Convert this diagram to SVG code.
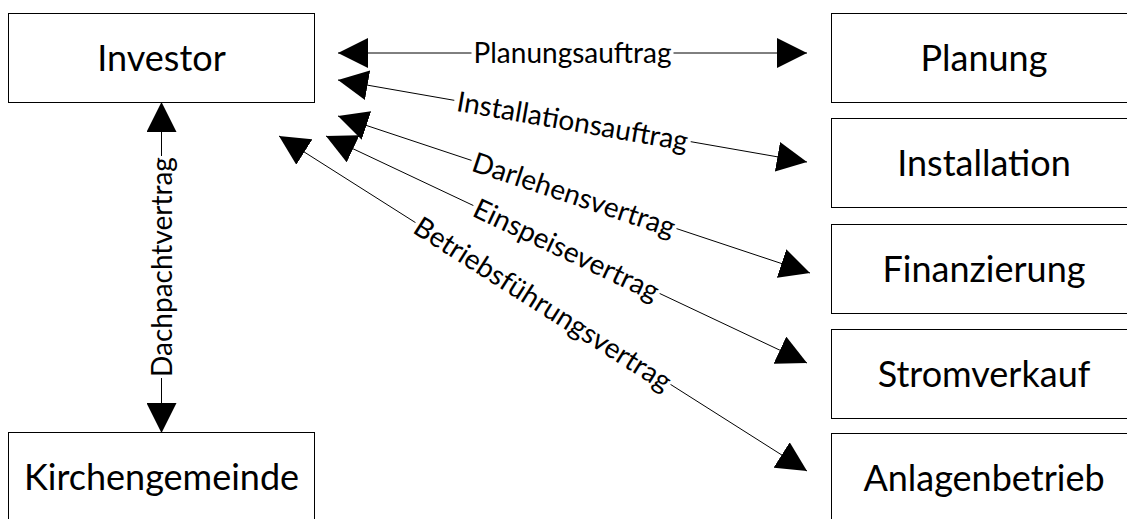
<svg xmlns="http://www.w3.org/2000/svg" width="1127" height="519" viewBox="0 0 1127 519">
<style>
.box{fill:#fff;stroke:#000;stroke-width:1}
.nt{font-family:Lato,"Open Sans",sans-serif;font-size:36px;fill:#000;text-anchor:middle}
.lt{font-family:Lato,"Open Sans",sans-serif;font-size:28px;fill:#000;text-anchor:middle}
.cn{stroke:#000;stroke-width:1;fill:none;marker-start:url(#ah);marker-end:url(#ah)}
.bg{fill:#fff;stroke:none}
</style>
<defs>
<marker id="ah" markerUnits="userSpaceOnUse" markerWidth="30" markerHeight="30" refX="30" refY="15" orient="auto-start-reverse" viewBox="0 0 30 30">
<path d="M0,0 L30,15 L0,30 Z" fill="#000"/>
</marker>
</defs>
<rect width="1127" height="519" fill="#fff"/>
<g id="connectors">
<line class="cn" x1="338" y1="53" x2="807" y2="53"/>
<line class="cn" x1="338" y1="80" x2="807" y2="162"/>
<line class="cn" x1="338" y1="116" x2="810" y2="273"/>
<line class="cn" x1="326" y1="136" x2="807" y2="363"/>
<line class="cn" x1="279" y1="136" x2="807" y2="471"/>
<line class="cn" x1="161.5" y1="102" x2="161.5" y2="433"/>
<g transform="translate(572.5,53)"><rect class="bg" x="-101" y="-13" width="202" height="26"/><text class="lt" y="10">Planungsauftrag</text></g>
<g transform="translate(572.5,121) rotate(9.9)"><rect class="bg" x="-120" y="-13" width="240" height="26"/><text class="lt" y="10">Installationsauftrag</text></g>
<g transform="translate(574,194.5) rotate(18.4)"><rect class="bg" x="-108" y="-13" width="216" height="26"/><text class="lt" y="10">Darlehensvertrag</text></g>
<g transform="translate(566.5,249.5) rotate(25.3)"><rect class="bg" x="-103" y="-13" width="206" height="26"/><text class="lt" y="10">Einspeisevertrag</text></g>
<g transform="translate(543,303.5) rotate(32.4)"><rect class="bg" x="-151" y="-13" width="302" height="26"/><text class="lt" y="10">Betriebsführungsvertrag</text></g>
<g transform="translate(161.5,267) rotate(-90)"><rect class="bg" x="-111" y="-13" width="222" height="26"/><text class="lt" y="10">Dachpachtvertrag</text></g>
</g>
<g id="investor"><rect class="box" x="8.5" y="13.5" width="306" height="89"/><text class="nt" x="161.5" y="71">Investor</text></g>
<g id="kirchengemeinde"><rect class="box" x="8.5" y="432.5" width="306" height="89"/><text class="nt" x="161.5" y="490">Kirchengemeinde</text></g>
<g id="planung"><rect class="box" x="831.5" y="13.5" width="306" height="89"/><text class="nt" x="984" y="71">Planung</text></g>
<g id="installation"><rect class="box" x="831.5" y="118.5" width="306" height="89"/><text class="nt" x="984" y="176">Installation</text></g>
<g id="finanzierung"><rect class="box" x="831.5" y="224.5" width="306" height="89"/><text class="nt" x="984" y="282">Finanzierung</text></g>
<g id="stromverkauf"><rect class="box" x="831.5" y="329.5" width="306" height="89"/><text class="nt" x="984" y="387">Stromverkauf</text></g>
<g id="anlagenbetrieb"><rect class="box" x="831.5" y="433.5" width="306" height="89"/><text class="nt" x="984" y="491">Anlagenbetrieb</text></g>
</svg>
